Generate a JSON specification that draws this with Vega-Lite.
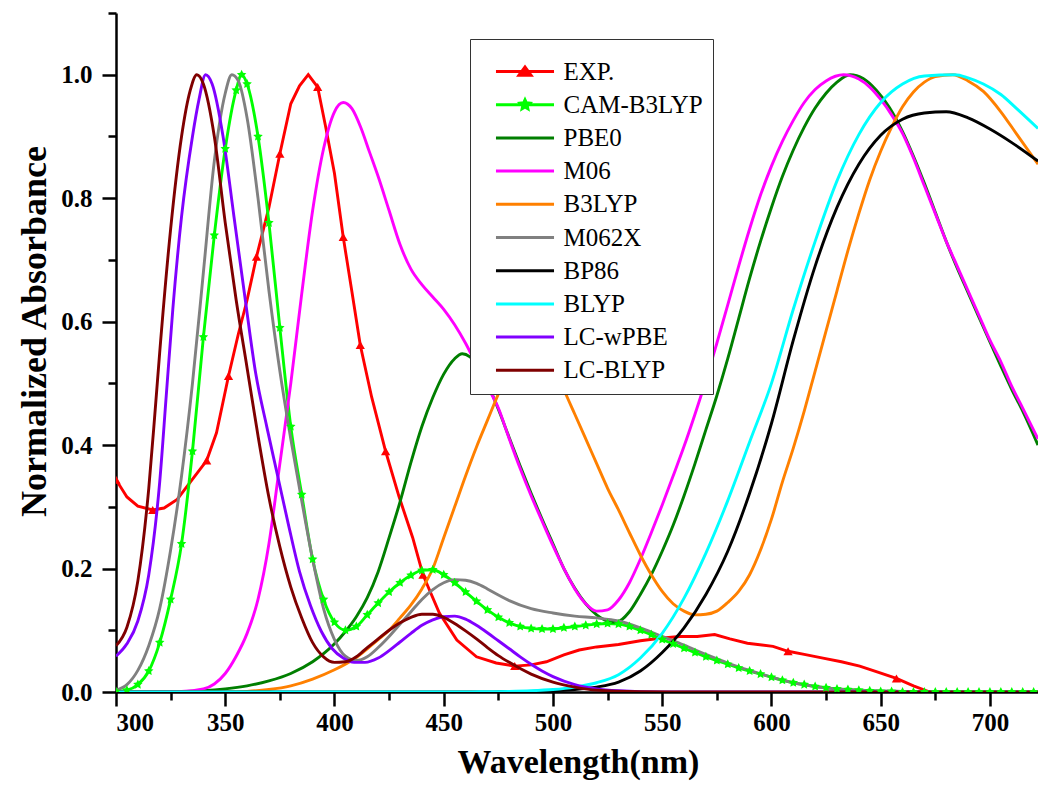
{
  "$schema": "https://vega.github.io/schema/vega-lite/v6.json",
  "width": 922,
  "height": 679,
  "autosize": {"type": "none"},
  "padding": {"left": 116, "top": 13, "right": 0, "bottom": 95},
  "background": "white",
  "config": {
    "view": {"stroke": null},
    "axis": {
      "domainColor": "black", "tickColor": "black", "domainWidth": 2.5, "tickWidth": 2.5, "grid": false,
      "labelFont": "Liberation Serif", "labelFontWeight": "bold", "labelFontSize": 25, "labelColor": "black",
      "titleFont": "Liberation Serif", "titleFontWeight": "bold", "titleColor": "black"
    }
  },
  "datasets": {
    "exp_markers": [
      {"nm": 300, "abs": 0.344}, {"nm": 316.8, "abs": 0.295}, {"nm": 341.5, "abs": 0.375}, {"nm": 351.5, "abs": 0.512},
      {"nm": 364.3, "abs": 0.705}, {"nm": 375, "abs": 0.872}, {"nm": 392.3, "abs": 0.98}, {"nm": 404, "abs": 0.737},
      {"nm": 411.8, "abs": 0.562}, {"nm": 423.4, "abs": 0.39}, {"nm": 440.5, "abs": 0.19}, {"nm": 482.5, "abs": 0.042},
      {"nm": 607.6, "abs": 0.066}, {"nm": 657.2, "abs": 0.022}
    ],
    "spectra": [
      {"series": "EXP.", "nm": 300, "abs": 0.344}, {"series": "EXP.", "nm": 305, "abs": 0.316}, {"series": "EXP.", "nm": 310, "abs": 0.301},
      {"series": "EXP.", "nm": 316.8, "abs": 0.295}, {"series": "EXP.", "nm": 322, "abs": 0.298}, {"series": "EXP.", "nm": 328, "abs": 0.312},
      {"series": "EXP.", "nm": 334, "abs": 0.34}, {"series": "EXP.", "nm": 341.5, "abs": 0.375}, {"series": "EXP.", "nm": 346, "abs": 0.42},
      {"series": "EXP.", "nm": 351.5, "abs": 0.512}, {"series": "EXP.", "nm": 356, "abs": 0.58}, {"series": "EXP.", "nm": 360, "abs": 0.635},
      {"series": "EXP.", "nm": 364.3, "abs": 0.705}, {"series": "EXP.", "nm": 370, "abs": 0.785}, {"series": "EXP.", "nm": 375, "abs": 0.872},
      {"series": "EXP.", "nm": 380, "abs": 0.953}, {"series": "EXP.", "nm": 384, "abs": 0.982}, {"series": "EXP.", "nm": 388, "abs": 1.0},
      {"series": "EXP.", "nm": 392.3, "abs": 0.98}, {"series": "EXP.", "nm": 396, "abs": 0.915}, {"series": "EXP.", "nm": 400, "abs": 0.84},
      {"series": "EXP.", "nm": 404, "abs": 0.737}, {"series": "EXP.", "nm": 408, "abs": 0.648}, {"series": "EXP.", "nm": 411.8, "abs": 0.562},
      {"series": "EXP.", "nm": 417, "abs": 0.478}, {"series": "EXP.", "nm": 423.4, "abs": 0.39}, {"series": "EXP.", "nm": 429.5, "abs": 0.317},
      {"series": "EXP.", "nm": 435.8, "abs": 0.25}, {"series": "EXP.", "nm": 440.5, "abs": 0.19}, {"series": "EXP.", "nm": 448, "abs": 0.128},
      {"series": "EXP.", "nm": 456, "abs": 0.084}, {"series": "EXP.", "nm": 465, "abs": 0.057}, {"series": "EXP.", "nm": 474, "abs": 0.047},
      {"series": "EXP.", "nm": 482.5, "abs": 0.042}, {"series": "EXP.", "nm": 490, "abs": 0.044}, {"series": "EXP.", "nm": 497, "abs": 0.049},
      {"series": "EXP.", "nm": 505, "abs": 0.06}, {"series": "EXP.", "nm": 512, "abs": 0.068}, {"series": "EXP.", "nm": 520, "abs": 0.073},
      {"series": "EXP.", "nm": 530, "abs": 0.077}, {"series": "EXP.", "nm": 540, "abs": 0.083}, {"series": "EXP.", "nm": 549, "abs": 0.087},
      {"series": "EXP.", "nm": 558, "abs": 0.09}, {"series": "EXP.", "nm": 566, "abs": 0.09}, {"series": "EXP.", "nm": 574, "abs": 0.093},
      {"series": "EXP.", "nm": 581, "abs": 0.086}, {"series": "EXP.", "nm": 589, "abs": 0.079}, {"series": "EXP.", "nm": 600.7, "abs": 0.074},
      {"series": "EXP.", "nm": 607.6, "abs": 0.066}, {"series": "EXP.", "nm": 615, "abs": 0.061}, {"series": "EXP.", "nm": 623.6, "abs": 0.055},
      {"series": "EXP.", "nm": 632, "abs": 0.049}, {"series": "EXP.", "nm": 640.4, "abs": 0.042}, {"series": "EXP.", "nm": 648, "abs": 0.033},
      {"series": "EXP.", "nm": 657.2, "abs": 0.022}, {"series": "EXP.", "nm": 665, "abs": 0.01}, {"series": "EXP.", "nm": 672.5, "abs": 0},

      {"series": "CAM-B3LYP", "nm": 300, "abs": 0.001}, {"series": "CAM-B3LYP", "nm": 305, "abs": 0.003}, {"series": "CAM-B3LYP", "nm": 310, "abs": 0.012},
      {"series": "CAM-B3LYP", "nm": 315, "abs": 0.034}, {"series": "CAM-B3LYP", "nm": 320, "abs": 0.08}, {"series": "CAM-B3LYP", "nm": 325, "abs": 0.15},
      {"series": "CAM-B3LYP", "nm": 330, "abs": 0.24}, {"series": "CAM-B3LYP", "nm": 335, "abs": 0.39}, {"series": "CAM-B3LYP", "nm": 340, "abs": 0.575},
      {"series": "CAM-B3LYP", "nm": 345, "abs": 0.74}, {"series": "CAM-B3LYP", "nm": 350, "abs": 0.88}, {"series": "CAM-B3LYP", "nm": 355, "abs": 0.975},
      {"series": "CAM-B3LYP", "nm": 357.5, "abs": 1.0}, {"series": "CAM-B3LYP", "nm": 360, "abs": 0.985}, {"series": "CAM-B3LYP", "nm": 365, "abs": 0.9},
      {"series": "CAM-B3LYP", "nm": 370, "abs": 0.76}, {"series": "CAM-B3LYP", "nm": 375, "abs": 0.59}, {"series": "CAM-B3LYP", "nm": 380, "abs": 0.43},
      {"series": "CAM-B3LYP", "nm": 385, "abs": 0.32}, {"series": "CAM-B3LYP", "nm": 390, "abs": 0.215}, {"series": "CAM-B3LYP", "nm": 395, "abs": 0.15},
      {"series": "CAM-B3LYP", "nm": 400, "abs": 0.113}, {"series": "CAM-B3LYP", "nm": 405, "abs": 0.1}, {"series": "CAM-B3LYP", "nm": 410, "abs": 0.106},
      {"series": "CAM-B3LYP", "nm": 415, "abs": 0.125}, {"series": "CAM-B3LYP", "nm": 420, "abs": 0.144}, {"series": "CAM-B3LYP", "nm": 425, "abs": 0.162},
      {"series": "CAM-B3LYP", "nm": 430, "abs": 0.177}, {"series": "CAM-B3LYP", "nm": 435, "abs": 0.189}, {"series": "CAM-B3LYP", "nm": 440, "abs": 0.197},
      {"series": "CAM-B3LYP", "nm": 445, "abs": 0.198}, {"series": "CAM-B3LYP", "nm": 450, "abs": 0.19}, {"series": "CAM-B3LYP", "nm": 455, "abs": 0.177},
      {"series": "CAM-B3LYP", "nm": 460, "abs": 0.162}, {"series": "CAM-B3LYP", "nm": 465, "abs": 0.147}, {"series": "CAM-B3LYP", "nm": 470, "abs": 0.133},
      {"series": "CAM-B3LYP", "nm": 475, "abs": 0.121}, {"series": "CAM-B3LYP", "nm": 480, "abs": 0.112}, {"series": "CAM-B3LYP", "nm": 485, "abs": 0.106},
      {"series": "CAM-B3LYP", "nm": 490, "abs": 0.103}, {"series": "CAM-B3LYP", "nm": 495, "abs": 0.102}, {"series": "CAM-B3LYP", "nm": 500, "abs": 0.102},
      {"series": "CAM-B3LYP", "nm": 505, "abs": 0.104}, {"series": "CAM-B3LYP", "nm": 510, "abs": 0.106}, {"series": "CAM-B3LYP", "nm": 515, "abs": 0.108},
      {"series": "CAM-B3LYP", "nm": 520, "abs": 0.11}, {"series": "CAM-B3LYP", "nm": 525, "abs": 0.111}, {"series": "CAM-B3LYP", "nm": 530, "abs": 0.11},
      {"series": "CAM-B3LYP", "nm": 535, "abs": 0.106}, {"series": "CAM-B3LYP", "nm": 540, "abs": 0.1}, {"series": "CAM-B3LYP", "nm": 545, "abs": 0.093},
      {"series": "CAM-B3LYP", "nm": 550, "abs": 0.085}, {"series": "CAM-B3LYP", "nm": 555, "abs": 0.078}, {"series": "CAM-B3LYP", "nm": 560, "abs": 0.071},
      {"series": "CAM-B3LYP", "nm": 565, "abs": 0.064}, {"series": "CAM-B3LYP", "nm": 570, "abs": 0.057}, {"series": "CAM-B3LYP", "nm": 575, "abs": 0.051},
      {"series": "CAM-B3LYP", "nm": 580, "abs": 0.045}, {"series": "CAM-B3LYP", "nm": 585, "abs": 0.039}, {"series": "CAM-B3LYP", "nm": 590, "abs": 0.034},
      {"series": "CAM-B3LYP", "nm": 595, "abs": 0.029}, {"series": "CAM-B3LYP", "nm": 600, "abs": 0.024}, {"series": "CAM-B3LYP", "nm": 605, "abs": 0.019},
      {"series": "CAM-B3LYP", "nm": 610, "abs": 0.015}, {"series": "CAM-B3LYP", "nm": 615, "abs": 0.012}, {"series": "CAM-B3LYP", "nm": 620, "abs": 0.009},
      {"series": "CAM-B3LYP", "nm": 625, "abs": 0.007}, {"series": "CAM-B3LYP", "nm": 630, "abs": 0.005}, {"series": "CAM-B3LYP", "nm": 635, "abs": 0.004},
      {"series": "CAM-B3LYP", "nm": 640, "abs": 0.003}, {"series": "CAM-B3LYP", "nm": 645, "abs": 0.002}, {"series": "CAM-B3LYP", "nm": 650, "abs": 0.001},
      {"series": "CAM-B3LYP", "nm": 655, "abs": 0.001}, {"series": "CAM-B3LYP", "nm": 660, "abs": 0}, {"series": "CAM-B3LYP", "nm": 665, "abs": 0},
      {"series": "CAM-B3LYP", "nm": 670, "abs": 0}, {"series": "CAM-B3LYP", "nm": 675, "abs": 0}, {"series": "CAM-B3LYP", "nm": 680, "abs": 0},
      {"series": "CAM-B3LYP", "nm": 685, "abs": 0}, {"series": "CAM-B3LYP", "nm": 690, "abs": 0}, {"series": "CAM-B3LYP", "nm": 695, "abs": 0},
      {"series": "CAM-B3LYP", "nm": 700, "abs": 0}, {"series": "CAM-B3LYP", "nm": 705, "abs": 0}, {"series": "CAM-B3LYP", "nm": 710, "abs": 0},
      {"series": "CAM-B3LYP", "nm": 715, "abs": 0}, {"series": "CAM-B3LYP", "nm": 720, "abs": 0},

      {"series": "PBE0", "nm": 300, "abs": 0}, {"series": "PBE0", "nm": 320, "abs": 0}, {"series": "PBE0", "nm": 330, "abs": 0.0008},
      {"series": "PBE0", "nm": 340, "abs": 0.002}, {"series": "PBE0", "nm": 350, "abs": 0.005}, {"series": "PBE0", "nm": 360, "abs": 0.01},
      {"series": "PBE0", "nm": 370, "abs": 0.018}, {"series": "PBE0", "nm": 380, "abs": 0.03}, {"series": "PBE0", "nm": 390, "abs": 0.049},
      {"series": "PBE0", "nm": 395, "abs": 0.062}, {"series": "PBE0", "nm": 400, "abs": 0.078}, {"series": "PBE0", "nm": 405, "abs": 0.098},
      {"series": "PBE0", "nm": 410, "abs": 0.122}, {"series": "PBE0", "nm": 415, "abs": 0.153}, {"series": "PBE0", "nm": 420, "abs": 0.195},
      {"series": "PBE0", "nm": 425, "abs": 0.25}, {"series": "PBE0", "nm": 430, "abs": 0.308}, {"series": "PBE0", "nm": 435, "abs": 0.372},
      {"series": "PBE0", "nm": 440, "abs": 0.43}, {"series": "PBE0", "nm": 445, "abs": 0.477}, {"series": "PBE0", "nm": 450, "abs": 0.515},
      {"series": "PBE0", "nm": 455, "abs": 0.54}, {"series": "PBE0", "nm": 458.5, "abs": 0.548}, {"series": "PBE0", "nm": 462, "abs": 0.543},
      {"series": "PBE0", "nm": 466, "abs": 0.527}, {"series": "PBE0", "nm": 470, "abs": 0.5}, {"series": "PBE0", "nm": 475, "abs": 0.458},
      {"series": "PBE0", "nm": 480, "abs": 0.412}, {"series": "PBE0", "nm": 485, "abs": 0.366}, {"series": "PBE0", "nm": 490, "abs": 0.322},
      {"series": "PBE0", "nm": 495, "abs": 0.28}, {"series": "PBE0", "nm": 500, "abs": 0.24}, {"series": "PBE0", "nm": 505, "abs": 0.2},
      {"series": "PBE0", "nm": 510, "abs": 0.168}, {"series": "PBE0", "nm": 515, "abs": 0.143}, {"series": "PBE0", "nm": 520, "abs": 0.125},
      {"series": "PBE0", "nm": 525, "abs": 0.115}, {"series": "PBE0", "nm": 529, "abs": 0.113}, {"series": "PBE0", "nm": 535, "abs": 0.13},
      {"series": "PBE0", "nm": 540, "abs": 0.158}, {"series": "PBE0", "nm": 545, "abs": 0.19}, {"series": "PBE0", "nm": 550, "abs": 0.228},
      {"series": "PBE0", "nm": 555, "abs": 0.27}, {"series": "PBE0", "nm": 560, "abs": 0.318}, {"series": "PBE0", "nm": 565, "abs": 0.37},
      {"series": "PBE0", "nm": 570, "abs": 0.425}, {"series": "PBE0", "nm": 575, "abs": 0.48}, {"series": "PBE0", "nm": 580, "abs": 0.54},
      {"series": "PBE0", "nm": 585, "abs": 0.605}, {"series": "PBE0", "nm": 590, "abs": 0.67}, {"series": "PBE0", "nm": 595, "abs": 0.73},
      {"series": "PBE0", "nm": 600, "abs": 0.785}, {"series": "PBE0", "nm": 605, "abs": 0.835}, {"series": "PBE0", "nm": 610, "abs": 0.878},
      {"series": "PBE0", "nm": 615, "abs": 0.915}, {"series": "PBE0", "nm": 620, "abs": 0.946}, {"series": "PBE0", "nm": 625, "abs": 0.97},
      {"series": "PBE0", "nm": 630, "abs": 0.988}, {"series": "PBE0", "nm": 636, "abs": 1.0}, {"series": "PBE0", "nm": 642, "abs": 0.994},
      {"series": "PBE0", "nm": 648, "abs": 0.975}, {"series": "PBE0", "nm": 654, "abs": 0.947}, {"series": "PBE0", "nm": 660, "abs": 0.908},
      {"series": "PBE0", "nm": 665, "abs": 0.868}, {"series": "PBE0", "nm": 670, "abs": 0.824}, {"series": "PBE0", "nm": 675, "abs": 0.777},
      {"series": "PBE0", "nm": 680, "abs": 0.73}, {"series": "PBE0", "nm": 685, "abs": 0.687}, {"series": "PBE0", "nm": 690, "abs": 0.647},
      {"series": "PBE0", "nm": 695, "abs": 0.607}, {"series": "PBE0", "nm": 700, "abs": 0.567}, {"series": "PBE0", "nm": 705, "abs": 0.528},
      {"series": "PBE0", "nm": 710, "abs": 0.49}, {"series": "PBE0", "nm": 715, "abs": 0.455}, {"series": "PBE0", "nm": 722, "abs": 0.4},

      {"series": "M06", "nm": 300, "abs": 0}, {"series": "M06", "nm": 330, "abs": 0.001}, {"series": "M06", "nm": 340, "abs": 0.005},
      {"series": "M06", "nm": 345, "abs": 0.013}, {"series": "M06", "nm": 350, "abs": 0.03}, {"series": "M06", "nm": 355, "abs": 0.058},
      {"series": "M06", "nm": 360, "abs": 0.095}, {"series": "M06", "nm": 365, "abs": 0.15}, {"series": "M06", "nm": 370, "abs": 0.24},
      {"series": "M06", "nm": 375, "abs": 0.37}, {"series": "M06", "nm": 380, "abs": 0.5}, {"series": "M06", "nm": 385, "abs": 0.645},
      {"series": "M06", "nm": 390, "abs": 0.78}, {"series": "M06", "nm": 395, "abs": 0.88}, {"series": "M06", "nm": 400, "abs": 0.94},
      {"series": "M06", "nm": 404, "abs": 0.955}, {"series": "M06", "nm": 408, "abs": 0.945}, {"series": "M06", "nm": 412, "abs": 0.915},
      {"series": "M06", "nm": 416, "abs": 0.875}, {"series": "M06", "nm": 420, "abs": 0.835}, {"series": "M06", "nm": 425, "abs": 0.78},
      {"series": "M06", "nm": 430, "abs": 0.725}, {"series": "M06", "nm": 435, "abs": 0.685}, {"series": "M06", "nm": 440, "abs": 0.66},
      {"series": "M06", "nm": 445, "abs": 0.64}, {"series": "M06", "nm": 450, "abs": 0.62}, {"series": "M06", "nm": 455, "abs": 0.595},
      {"series": "M06", "nm": 460, "abs": 0.565}, {"series": "M06", "nm": 465, "abs": 0.53}, {"series": "M06", "nm": 470, "abs": 0.495},
      {"series": "M06", "nm": 475, "abs": 0.46}, {"series": "M06", "nm": 480, "abs": 0.41}, {"series": "M06", "nm": 485, "abs": 0.362},
      {"series": "M06", "nm": 490, "abs": 0.318}, {"series": "M06", "nm": 495, "abs": 0.277}, {"series": "M06", "nm": 500, "abs": 0.237},
      {"series": "M06", "nm": 505, "abs": 0.2}, {"series": "M06", "nm": 510, "abs": 0.167}, {"series": "M06", "nm": 515, "abs": 0.143},
      {"series": "M06", "nm": 520, "abs": 0.131}, {"series": "M06", "nm": 525, "abs": 0.133}, {"series": "M06", "nm": 530, "abs": 0.149},
      {"series": "M06", "nm": 535, "abs": 0.177}, {"series": "M06", "nm": 540, "abs": 0.215}, {"series": "M06", "nm": 545, "abs": 0.258},
      {"series": "M06", "nm": 550, "abs": 0.303}, {"series": "M06", "nm": 555, "abs": 0.35}, {"series": "M06", "nm": 560, "abs": 0.398},
      {"series": "M06", "nm": 565, "abs": 0.45}, {"series": "M06", "nm": 570, "abs": 0.505}, {"series": "M06", "nm": 575, "abs": 0.565},
      {"series": "M06", "nm": 580, "abs": 0.627}, {"series": "M06", "nm": 585, "abs": 0.69}, {"series": "M06", "nm": 590, "abs": 0.75},
      {"series": "M06", "nm": 595, "abs": 0.805}, {"series": "M06", "nm": 600, "abs": 0.852}, {"series": "M06", "nm": 605, "abs": 0.892},
      {"series": "M06", "nm": 610, "abs": 0.926}, {"series": "M06", "nm": 615, "abs": 0.955}, {"series": "M06", "nm": 620, "abs": 0.976},
      {"series": "M06", "nm": 625, "abs": 0.99}, {"series": "M06", "nm": 633, "abs": 1.0}, {"series": "M06", "nm": 640, "abs": 0.993},
      {"series": "M06", "nm": 645, "abs": 0.98}, {"series": "M06", "nm": 650, "abs": 0.96}, {"series": "M06", "nm": 655, "abs": 0.935},
      {"series": "M06", "nm": 660, "abs": 0.905}, {"series": "M06", "nm": 665, "abs": 0.865}, {"series": "M06", "nm": 670, "abs": 0.82},
      {"series": "M06", "nm": 675, "abs": 0.775}, {"series": "M06", "nm": 680, "abs": 0.73}, {"series": "M06", "nm": 685, "abs": 0.69},
      {"series": "M06", "nm": 690, "abs": 0.65}, {"series": "M06", "nm": 695, "abs": 0.61}, {"series": "M06", "nm": 700, "abs": 0.57},
      {"series": "M06", "nm": 705, "abs": 0.535}, {"series": "M06", "nm": 710, "abs": 0.495}, {"series": "M06", "nm": 715, "abs": 0.46},
      {"series": "M06", "nm": 722, "abs": 0.41},

      {"series": "B3LYP", "nm": 300, "abs": 0}, {"series": "B3LYP", "nm": 350, "abs": 0}, {"series": "B3LYP", "nm": 360, "abs": 0.001},
      {"series": "B3LYP", "nm": 370, "abs": 0.004}, {"series": "B3LYP", "nm": 380, "abs": 0.01}, {"series": "B3LYP", "nm": 390, "abs": 0.021},
      {"series": "B3LYP", "nm": 400, "abs": 0.036}, {"series": "B3LYP", "nm": 410, "abs": 0.056}, {"series": "B3LYP", "nm": 420, "abs": 0.085},
      {"series": "B3LYP", "nm": 425, "abs": 0.1}, {"series": "B3LYP", "nm": 430, "abs": 0.12}, {"series": "B3LYP", "nm": 435, "abs": 0.141},
      {"series": "B3LYP", "nm": 440, "abs": 0.167}, {"series": "B3LYP", "nm": 445, "abs": 0.2}, {"series": "B3LYP", "nm": 450, "abs": 0.25},
      {"series": "B3LYP", "nm": 455, "abs": 0.3}, {"series": "B3LYP", "nm": 460, "abs": 0.35}, {"series": "B3LYP", "nm": 465, "abs": 0.397},
      {"series": "B3LYP", "nm": 470, "abs": 0.44}, {"series": "B3LYP", "nm": 475, "abs": 0.483}, {"series": "B3LYP", "nm": 480, "abs": 0.525},
      {"series": "B3LYP", "nm": 485, "abs": 0.56}, {"series": "B3LYP", "nm": 490, "abs": 0.58}, {"series": "B3LYP", "nm": 495, "abs": 0.572},
      {"series": "B3LYP", "nm": 500, "abs": 0.535}, {"series": "B3LYP", "nm": 505, "abs": 0.49}, {"series": "B3LYP", "nm": 510, "abs": 0.45},
      {"series": "B3LYP", "nm": 515, "abs": 0.41}, {"series": "B3LYP", "nm": 520, "abs": 0.37}, {"series": "B3LYP", "nm": 525, "abs": 0.33},
      {"series": "B3LYP", "nm": 530, "abs": 0.295}, {"series": "B3LYP", "nm": 535, "abs": 0.258}, {"series": "B3LYP", "nm": 540, "abs": 0.222},
      {"series": "B3LYP", "nm": 545, "abs": 0.19}, {"series": "B3LYP", "nm": 550, "abs": 0.163}, {"series": "B3LYP", "nm": 555, "abs": 0.143},
      {"series": "B3LYP", "nm": 560, "abs": 0.131}, {"series": "B3LYP", "nm": 565, "abs": 0.125}, {"series": "B3LYP", "nm": 570, "abs": 0.126},
      {"series": "B3LYP", "nm": 575, "abs": 0.131}, {"series": "B3LYP", "nm": 580, "abs": 0.145}, {"series": "B3LYP", "nm": 585, "abs": 0.163},
      {"series": "B3LYP", "nm": 590, "abs": 0.19}, {"series": "B3LYP", "nm": 595, "abs": 0.23}, {"series": "B3LYP", "nm": 600, "abs": 0.28},
      {"series": "B3LYP", "nm": 605, "abs": 0.34}, {"series": "B3LYP", "nm": 610, "abs": 0.395}, {"series": "B3LYP", "nm": 615, "abs": 0.455},
      {"series": "B3LYP", "nm": 620, "abs": 0.52}, {"series": "B3LYP", "nm": 625, "abs": 0.585}, {"series": "B3LYP", "nm": 630, "abs": 0.65},
      {"series": "B3LYP", "nm": 635, "abs": 0.715}, {"series": "B3LYP", "nm": 640, "abs": 0.775}, {"series": "B3LYP", "nm": 645, "abs": 0.83},
      {"series": "B3LYP", "nm": 650, "abs": 0.876}, {"series": "B3LYP", "nm": 655, "abs": 0.915}, {"series": "B3LYP", "nm": 660, "abs": 0.948},
      {"series": "B3LYP", "nm": 665, "abs": 0.972}, {"series": "B3LYP", "nm": 670, "abs": 0.988}, {"series": "B3LYP", "nm": 675, "abs": 0.997},
      {"series": "B3LYP", "nm": 683, "abs": 1.0}, {"series": "B3LYP", "nm": 690, "abs": 0.99}, {"series": "B3LYP", "nm": 697, "abs": 0.973},
      {"series": "B3LYP", "nm": 705, "abs": 0.94}, {"series": "B3LYP", "nm": 712, "abs": 0.905}, {"series": "B3LYP", "nm": 722, "abs": 0.855},

      {"series": "M062X", "nm": 300, "abs": 0.003}, {"series": "M062X", "nm": 305, "abs": 0.012}, {"series": "M062X", "nm": 310, "abs": 0.035},
      {"series": "M062X", "nm": 315, "abs": 0.075}, {"series": "M062X", "nm": 320, "abs": 0.135}, {"series": "M062X", "nm": 325, "abs": 0.23},
      {"series": "M062X", "nm": 330, "abs": 0.35}, {"series": "M062X", "nm": 335, "abs": 0.5}, {"series": "M062X", "nm": 340, "abs": 0.68},
      {"series": "M062X", "nm": 345, "abs": 0.86}, {"series": "M062X", "nm": 350, "abs": 0.97}, {"series": "M062X", "nm": 353, "abs": 1.0},
      {"series": "M062X", "nm": 356, "abs": 0.99}, {"series": "M062X", "nm": 360, "abs": 0.93}, {"series": "M062X", "nm": 365, "abs": 0.8},
      {"series": "M062X", "nm": 370, "abs": 0.65}, {"series": "M062X", "nm": 375, "abs": 0.52}, {"series": "M062X", "nm": 380, "abs": 0.41},
      {"series": "M062X", "nm": 385, "abs": 0.31}, {"series": "M062X", "nm": 390, "abs": 0.215}, {"series": "M062X", "nm": 395, "abs": 0.135},
      {"series": "M062X", "nm": 400, "abs": 0.085}, {"series": "M062X", "nm": 405, "abs": 0.058}, {"series": "M062X", "nm": 410, "abs": 0.051},
      {"series": "M062X", "nm": 415, "abs": 0.057}, {"series": "M062X", "nm": 420, "abs": 0.072}, {"series": "M062X", "nm": 425, "abs": 0.09},
      {"series": "M062X", "nm": 430, "abs": 0.11}, {"series": "M062X", "nm": 435, "abs": 0.13}, {"series": "M062X", "nm": 440, "abs": 0.15},
      {"series": "M062X", "nm": 445, "abs": 0.166}, {"series": "M062X", "nm": 450, "abs": 0.177}, {"series": "M062X", "nm": 455, "abs": 0.182},
      {"series": "M062X", "nm": 460, "abs": 0.181}, {"series": "M062X", "nm": 465, "abs": 0.176}, {"series": "M062X", "nm": 470, "abs": 0.167},
      {"series": "M062X", "nm": 475, "abs": 0.157}, {"series": "M062X", "nm": 480, "abs": 0.148}, {"series": "M062X", "nm": 490, "abs": 0.135},
      {"series": "M062X", "nm": 500, "abs": 0.128}, {"series": "M062X", "nm": 510, "abs": 0.123}, {"series": "M062X", "nm": 520, "abs": 0.12},
      {"series": "M062X", "nm": 530, "abs": 0.115}, {"series": "M062X", "nm": 540, "abs": 0.104}, {"series": "M062X", "nm": 550, "abs": 0.09},
      {"series": "M062X", "nm": 560, "abs": 0.076}, {"series": "M062X", "nm": 570, "abs": 0.061}, {"series": "M062X", "nm": 580, "abs": 0.047},
      {"series": "M062X", "nm": 590, "abs": 0.035}, {"series": "M062X", "nm": 600, "abs": 0.024}, {"series": "M062X", "nm": 610, "abs": 0.015},
      {"series": "M062X", "nm": 620, "abs": 0.009}, {"series": "M062X", "nm": 630, "abs": 0.005}, {"series": "M062X", "nm": 640, "abs": 0.003},
      {"series": "M062X", "nm": 660, "abs": 0.001}, {"series": "M062X", "nm": 680, "abs": 0}, {"series": "M062X", "nm": 722, "abs": 0},

      {"series": "BP86", "nm": 300, "abs": 0}, {"series": "BP86", "nm": 470, "abs": 0}, {"series": "BP86", "nm": 480, "abs": 0.0005},
      {"series": "BP86", "nm": 490, "abs": 0.001}, {"series": "BP86", "nm": 500, "abs": 0.002}, {"series": "BP86", "nm": 510, "abs": 0.004},
      {"series": "BP86", "nm": 520, "abs": 0.008}, {"series": "BP86", "nm": 530, "abs": 0.016}, {"series": "BP86", "nm": 540, "abs": 0.034},
      {"series": "BP86", "nm": 550, "abs": 0.064}, {"series": "BP86", "nm": 560, "abs": 0.104}, {"series": "BP86", "nm": 570, "abs": 0.158},
      {"series": "BP86", "nm": 580, "abs": 0.228}, {"series": "BP86", "nm": 590, "abs": 0.322}, {"series": "BP86", "nm": 600, "abs": 0.435},
      {"series": "BP86", "nm": 610, "abs": 0.57}, {"series": "BP86", "nm": 620, "abs": 0.69}, {"series": "BP86", "nm": 630, "abs": 0.785},
      {"series": "BP86", "nm": 640, "abs": 0.855}, {"series": "BP86", "nm": 650, "abs": 0.902}, {"series": "BP86", "nm": 660, "abs": 0.928},
      {"series": "BP86", "nm": 670, "abs": 0.938}, {"series": "BP86", "nm": 680, "abs": 0.94}, {"series": "BP86", "nm": 690, "abs": 0.93},
      {"series": "BP86", "nm": 700, "abs": 0.912}, {"series": "BP86", "nm": 710, "abs": 0.89}, {"series": "BP86", "nm": 722, "abs": 0.86},

      {"series": "BLYP", "nm": 300, "abs": 0}, {"series": "BLYP", "nm": 460, "abs": 0}, {"series": "BLYP", "nm": 470, "abs": 0.0005},
      {"series": "BLYP", "nm": 480, "abs": 0.001}, {"series": "BLYP", "nm": 490, "abs": 0.002}, {"series": "BLYP", "nm": 500, "abs": 0.004},
      {"series": "BLYP", "nm": 510, "abs": 0.008}, {"series": "BLYP", "nm": 520, "abs": 0.015}, {"series": "BLYP", "nm": 530, "abs": 0.028},
      {"series": "BLYP", "nm": 540, "abs": 0.055}, {"series": "BLYP", "nm": 550, "abs": 0.095}, {"series": "BLYP", "nm": 560, "abs": 0.152},
      {"series": "BLYP", "nm": 570, "abs": 0.225}, {"series": "BLYP", "nm": 580, "abs": 0.31}, {"series": "BLYP", "nm": 590, "abs": 0.405},
      {"series": "BLYP", "nm": 600, "abs": 0.5}, {"series": "BLYP", "nm": 610, "abs": 0.62}, {"series": "BLYP", "nm": 620, "abs": 0.73},
      {"series": "BLYP", "nm": 630, "abs": 0.828}, {"series": "BLYP", "nm": 640, "abs": 0.903}, {"series": "BLYP", "nm": 650, "abs": 0.955},
      {"series": "BLYP", "nm": 660, "abs": 0.985}, {"series": "BLYP", "nm": 670, "abs": 0.998}, {"series": "BLYP", "nm": 684, "abs": 1.0},
      {"series": "BLYP", "nm": 690, "abs": 0.995}, {"series": "BLYP", "nm": 697, "abs": 0.985}, {"series": "BLYP", "nm": 705, "abs": 0.968},
      {"series": "BLYP", "nm": 712, "abs": 0.946}, {"series": "BLYP", "nm": 722, "abs": 0.913},

      {"series": "LC-wPBE", "nm": 300, "abs": 0.058}, {"series": "LC-wPBE", "nm": 305, "abs": 0.078}, {"series": "LC-wPBE", "nm": 310, "abs": 0.115},
      {"series": "LC-wPBE", "nm": 315, "abs": 0.19}, {"series": "LC-wPBE", "nm": 320, "abs": 0.34}, {"series": "LC-wPBE", "nm": 323, "abs": 0.48},
      {"series": "LC-wPBE", "nm": 326, "abs": 0.62}, {"series": "LC-wPBE", "nm": 330, "abs": 0.77}, {"series": "LC-wPBE", "nm": 335, "abs": 0.9},
      {"series": "LC-wPBE", "nm": 338, "abs": 0.96}, {"series": "LC-wPBE", "nm": 341, "abs": 1.0}, {"series": "LC-wPBE", "nm": 344, "abs": 0.985},
      {"series": "LC-wPBE", "nm": 349, "abs": 0.9}, {"series": "LC-wPBE", "nm": 354, "abs": 0.77}, {"series": "LC-wPBE", "nm": 359, "abs": 0.64},
      {"series": "LC-wPBE", "nm": 364, "abs": 0.515}, {"series": "LC-wPBE", "nm": 369, "abs": 0.43}, {"series": "LC-wPBE", "nm": 374, "abs": 0.35},
      {"series": "LC-wPBE", "nm": 379, "abs": 0.27}, {"series": "LC-wPBE", "nm": 384, "abs": 0.195}, {"series": "LC-wPBE", "nm": 389, "abs": 0.14},
      {"series": "LC-wPBE", "nm": 394, "abs": 0.098}, {"series": "LC-wPBE", "nm": 399, "abs": 0.07}, {"series": "LC-wPBE", "nm": 404, "abs": 0.055},
      {"series": "LC-wPBE", "nm": 409, "abs": 0.048}, {"series": "LC-wPBE", "nm": 414, "abs": 0.048}, {"series": "LC-wPBE", "nm": 420, "abs": 0.055},
      {"series": "LC-wPBE", "nm": 425, "abs": 0.067}, {"series": "LC-wPBE", "nm": 430, "abs": 0.081}, {"series": "LC-wPBE", "nm": 435, "abs": 0.095},
      {"series": "LC-wPBE", "nm": 440, "abs": 0.108}, {"series": "LC-wPBE", "nm": 445, "abs": 0.117}, {"series": "LC-wPBE", "nm": 450, "abs": 0.122},
      {"series": "LC-wPBE", "nm": 455, "abs": 0.123}, {"series": "LC-wPBE", "nm": 460, "abs": 0.118}, {"series": "LC-wPBE", "nm": 465, "abs": 0.108},
      {"series": "LC-wPBE", "nm": 470, "abs": 0.096}, {"series": "LC-wPBE", "nm": 475, "abs": 0.083}, {"series": "LC-wPBE", "nm": 480, "abs": 0.07},
      {"series": "LC-wPBE", "nm": 485, "abs": 0.057}, {"series": "LC-wPBE", "nm": 490, "abs": 0.045}, {"series": "LC-wPBE", "nm": 495, "abs": 0.034},
      {"series": "LC-wPBE", "nm": 500, "abs": 0.025}, {"series": "LC-wPBE", "nm": 510, "abs": 0.012}, {"series": "LC-wPBE", "nm": 520, "abs": 0.005},
      {"series": "LC-wPBE", "nm": 530, "abs": 0.002}, {"series": "LC-wPBE", "nm": 550, "abs": 0}, {"series": "LC-wPBE", "nm": 722, "abs": 0},

      {"series": "LC-BLYP", "nm": 300, "abs": 0.075}, {"series": "LC-BLYP", "nm": 305, "abs": 0.105}, {"series": "LC-BLYP", "nm": 310, "abs": 0.18},
      {"series": "LC-BLYP", "nm": 315, "abs": 0.33}, {"series": "LC-BLYP", "nm": 318, "abs": 0.46}, {"series": "LC-BLYP", "nm": 320, "abs": 0.55},
      {"series": "LC-BLYP", "nm": 325, "abs": 0.75}, {"series": "LC-BLYP", "nm": 330, "abs": 0.9}, {"series": "LC-BLYP", "nm": 334, "abs": 0.975},
      {"series": "LC-BLYP", "nm": 337, "abs": 1.0}, {"series": "LC-BLYP", "nm": 340, "abs": 0.985}, {"series": "LC-BLYP", "nm": 345, "abs": 0.9},
      {"series": "LC-BLYP", "nm": 350, "abs": 0.76}, {"series": "LC-BLYP", "nm": 355, "abs": 0.635}, {"series": "LC-BLYP", "nm": 360, "abs": 0.525},
      {"series": "LC-BLYP", "nm": 365, "abs": 0.415}, {"series": "LC-BLYP", "nm": 370, "abs": 0.315}, {"series": "LC-BLYP", "nm": 375, "abs": 0.235},
      {"series": "LC-BLYP", "nm": 380, "abs": 0.17}, {"series": "LC-BLYP", "nm": 385, "abs": 0.12}, {"series": "LC-BLYP", "nm": 390, "abs": 0.08},
      {"series": "LC-BLYP", "nm": 395, "abs": 0.057}, {"series": "LC-BLYP", "nm": 400, "abs": 0.048}, {"series": "LC-BLYP", "nm": 405, "abs": 0.049},
      {"series": "LC-BLYP", "nm": 410, "abs": 0.057}, {"series": "LC-BLYP", "nm": 415, "abs": 0.072}, {"series": "LC-BLYP", "nm": 420, "abs": 0.086},
      {"series": "LC-BLYP", "nm": 425, "abs": 0.1}, {"series": "LC-BLYP", "nm": 430, "abs": 0.112}, {"series": "LC-BLYP", "nm": 435, "abs": 0.121},
      {"series": "LC-BLYP", "nm": 440, "abs": 0.126}, {"series": "LC-BLYP", "nm": 445, "abs": 0.126}, {"series": "LC-BLYP", "nm": 450, "abs": 0.121},
      {"series": "LC-BLYP", "nm": 455, "abs": 0.111}, {"series": "LC-BLYP", "nm": 460, "abs": 0.099}, {"series": "LC-BLYP", "nm": 465, "abs": 0.086},
      {"series": "LC-BLYP", "nm": 470, "abs": 0.072}, {"series": "LC-BLYP", "nm": 475, "abs": 0.059}, {"series": "LC-BLYP", "nm": 480, "abs": 0.048},
      {"series": "LC-BLYP", "nm": 490, "abs": 0.029}, {"series": "LC-BLYP", "nm": 500, "abs": 0.016}, {"series": "LC-BLYP", "nm": 510, "abs": 0.008},
      {"series": "LC-BLYP", "nm": 520, "abs": 0.003}, {"series": "LC-BLYP", "nm": 540, "abs": 0.0005}, {"series": "LC-BLYP", "nm": 560, "abs": 0},
      {"series": "LC-BLYP", "nm": 722, "abs": 0}
    ]
  },
  "layer": [
    {
      "data": {"name": "spectra"},
      "transform": [{"filter": "datum.series == 'EXP.'"}],
      "mark": {"type": "line", "interpolate": "linear", "strokeWidth": 2.9, "clip": true},
      "encoding": {
        "x": {"field": "nm", "type": "quantitative", "scale": {"domain": [300, 722], "nice": false, "zero": false},
          "axis": {"orient": "bottom", "values": [300, 350, 400, 450, 500, 550, 600, 650, 700], "format": "d", "tickSize": 14, "labelPadding": 4,
            "title": "Wavelength(nm)", "titleFontSize": 34, "titleX": 462, "titleY": 80, "titleBaseline": "alphabetic", "titleAlign": "center"}},
        "y": {"field": "abs", "type": "quantitative", "scale": {"domain": [0, 1.1], "nice": false, "zero": true},
          "axis": {"orient": "left", "values": [0, 0.2, 0.4, 0.6, 0.8, 1.0], "format": ".1f", "tickSize": 14, "labelPadding": 10,
            "title": "Normalized Absorbance", "titleFontSize": 36, "titleX": -71, "titleY": 318, "titleAngle": -90, "titleBaseline": "alphabetic", "titleAlign": "center"}},
        "color": {"field": "series", "type": "nominal",
          "scale": {"domain": ["EXP.", "CAM-B3LYP", "PBE0", "M06", "B3LYP", "M062X", "BP86", "BLYP", "LC-wPBE", "LC-BLYP"],
            "range": ["#ff0000", "#00ff00", "#007f00", "#ff00ff", "#ff8000", "#808080", "#000000", "#00ffff", "#8000ff", "#7f0000"]},
          "legend": {"orient": "none", "legendX": 354, "legendY": 26, "title": " ", "titleFontSize": 8, "titlePadding": 2,
            "padding": 10, "strokeColor": "#333333", "fillColor": "white",
            "symbolType": {"expr": "datum.value == 'EXP.' ? 'M-3.87,0L3.87,0M-0.8,0.5L0,-0.6L0.8,0.5Z' : (datum.value == 'CAM-B3LYP' ? 'M-3.87,0L3.87,0M0,-0.65L0.18,-0.25L0.62,-0.2L0.29,0.1L0.38,0.53L0,0.31L-0.38,0.53L-0.29,0.1L-0.62,-0.2L-0.18,-0.25Z' : 'M-3.87,0L3.87,0')"},
            "symbolFillColor": {"expr": "scale('color', datum.value)"},
            "symbolSize": 225, "symbolStrokeWidth": 3, "symbolOffset": 32.5, "labelOffset": 26,
            "labelFont": "Liberation Serif", "labelFontSize": 25, "labelFontWeight": "normal", "labelColor": "black", "labelLimit": 300, "rowPadding": 7.2}}
      }
    },
    {
      "data": {"name": "exp_markers"},
      "mark": {"type": "point", "shape": "triangle-up", "filled": true, "size": 85, "color": "#ff0000", "opacity": 1, "clip": true},
      "encoding": {
        "x": {"field": "nm", "type": "quantitative", "scale": {"domain": [300, 722], "nice": false, "zero": false},
          "axis": {"orient": "bottom", "values": [325, 375, 425, 475, 525, 575, 625, 675], "labels": false, "domain": false, "tickSize": 8, "title": null}},
        "y": {"field": "abs", "type": "quantitative", "scale": {"domain": [0, 1.1], "nice": false, "zero": true},
          "axis": {"orient": "left", "values": [0.1, 0.3, 0.5, 0.7, 0.9, 1.1], "labels": false, "domain": false, "tickSize": 8, "title": null}}
      }
    },
    {
      "data": {"name": "spectra"},
      "transform": [{"filter": "datum.series != 'EXP.'"}],
      "mark": {"type": "line", "interpolate": "monotone", "strokeWidth": 2.9, "clip": true},
      "encoding": {
        "x": {"field": "nm", "type": "quantitative", "scale": {"domain": [300, 722], "nice": false, "zero": false}, "axis": null},
        "y": {"field": "abs", "type": "quantitative", "scale": {"domain": [0, 1.1], "nice": false, "zero": true}, "axis": null},
        "color": {"field": "series", "type": "nominal",
          "scale": {"domain": ["EXP.", "CAM-B3LYP", "PBE0", "M06", "B3LYP", "M062X", "BP86", "BLYP", "LC-wPBE", "LC-BLYP"],
            "range": ["#ff0000", "#00ff00", "#007f00", "#ff00ff", "#ff8000", "#808080", "#000000", "#00ffff", "#8000ff", "#7f0000"]}}
      }
    },
    {
      "data": {"name": "spectra"},
      "transform": [{"filter": "datum.series == 'CAM-B3LYP'"}],
      "mark": {"type": "point", "shape": "M0,-1L0.29,-0.4L0.95,-0.31L0.47,0.15L0.59,0.81L0,0.5L-0.59,0.81L-0.47,0.15L-0.95,-0.31L-0.29,-0.4Z",
        "filled": true, "size": 100, "color": "#00ff00", "opacity": 1, "clip": true},
      "encoding": {
        "x": {"field": "nm", "type": "quantitative", "scale": {"domain": [300, 722], "nice": false, "zero": false}, "axis": null},
        "y": {"field": "abs", "type": "quantitative", "scale": {"domain": [0, 1.1], "nice": false, "zero": true}, "axis": null}
      }
    }
  ],
  "resolve": {"axis": {"x": "independent", "y": "independent"}}
}
